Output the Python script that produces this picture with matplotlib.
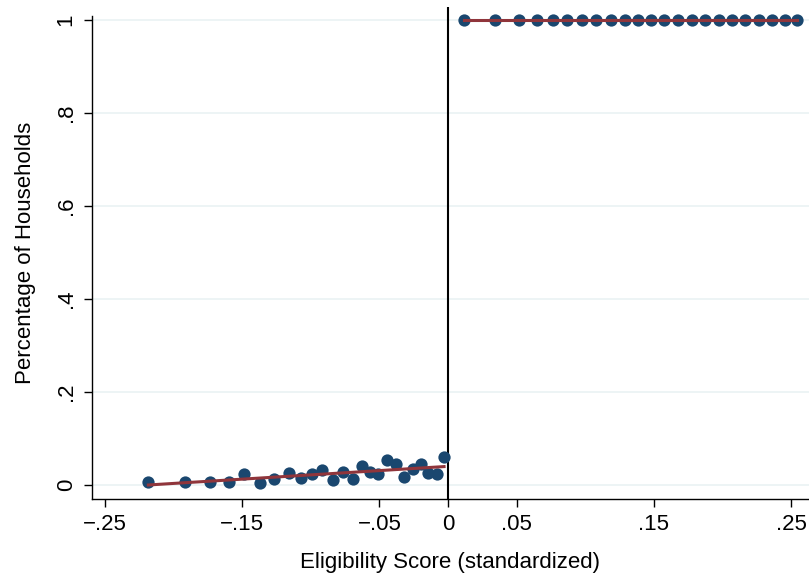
import numpy as np
import matplotlib
matplotlib.use("Agg")
import matplotlib.pyplot as plt

plt.rcParams["font.family"] = ["Liberation Sans", "DejaVu Sans"]

# binned means below the cutoff
left_x = [-0.2184, -0.1917, -0.1735, -0.1596, -0.1487, -0.1370, -0.1266, -0.1159,
          -0.1074, -0.0991, -0.0916, -0.0836, -0.0767, -0.0695, -0.0625, -0.0569,
          -0.0512, -0.0447, -0.0379, -0.0319, -0.0257, -0.0197, -0.0144, -0.0082,
          -0.0029]
left_y = [0.007, 0.006, 0.006, 0.006, 0.023, 0.005, 0.012, 0.025,
          0.014, 0.023, 0.032, 0.011, 0.028, 0.013, 0.040, 0.027,
          0.023, 0.054, 0.045, 0.018, 0.035, 0.046, 0.025, 0.024,
          0.060]

# binned means above the cutoff
right_x = [0.0117, 0.0343, 0.0517, 0.0649, 0.0765, 0.0867, 0.0977, 0.1082,
           0.1188, 0.1290, 0.1385, 0.1480, 0.1574, 0.1676, 0.1775, 0.1873,
           0.1975, 0.2070, 0.2165, 0.2267, 0.2362, 0.2456, 0.2544]
right_y = [1.0] * len(right_x)

xticks = [-0.25, -0.15, -0.05, 0, 0.05, 0.15, 0.25]
xtick_labels = ["\u2212.25", "\u2212.15", "\u2212.05", "0", ".05", ".15", ".25"]
yticks = [0, 0.2, 0.4, 0.6, 0.8, 1.0]
ytick_labels = ["0", ".2", ".4", ".6", ".8", "1"]

DOT = "#1a476f"
FIT = "#90353b"
FS = 16

W, H = 809, 575
fig = plt.figure(figsize=(W / 100, H / 100), dpi=100)
ax = fig.add_axes([92 / W, (H - 499) / H, (W - 92) / W, (499 - 7) / H])

ax.set_xlim(-0.2595, 0.2631)
ax.set_ylim(-0.0301, 1.028)

for y in yticks:
    ax.axhline(y, color="#eaf2f3", lw=1.2, zorder=0)

ax.axvline(0, color="black", lw=1.5, zorder=1)

ax.scatter(left_x, left_y, s=78, color=DOT, zorder=3, linewidths=0)
ax.scatter(right_x, right_y, s=78, color=DOT, zorder=3, linewidths=0)

# linear fits on each side
for xs, ys in ((left_x, left_y), (right_x, right_y)):
    xs = np.asarray(xs)
    coef = np.polyfit(xs, ys, 1)
    xx = np.array([xs.min(), xs.max()])
    ax.plot(xx, np.polyval(coef, xx), color=FIT, lw=2.2, zorder=4)

ax.spines["top"].set_visible(False)
ax.spines["right"].set_visible(False)
ax.spines["left"].set_bounds(-0.0301, 1.0086)
for s in ("left", "bottom"):
    ax.spines[s].set_linewidth(1.0)

ax.set_xticks(xticks)
ax.set_xticklabels(xtick_labels)
ax.set_yticks(yticks)
ax.set_yticklabels(ytick_labels, rotation=90, va="center")
ax.tick_params(axis="both", length=6, width=1.0, labelsize=FS, pad=5)

ax.set_xlabel("Eligibility Score (standardized)", fontsize=FS, labelpad=12)
ax.set_ylabel("Percentage of Households", fontsize=FS, labelpad=14)

fig.savefig("out.png", dpi=100)
